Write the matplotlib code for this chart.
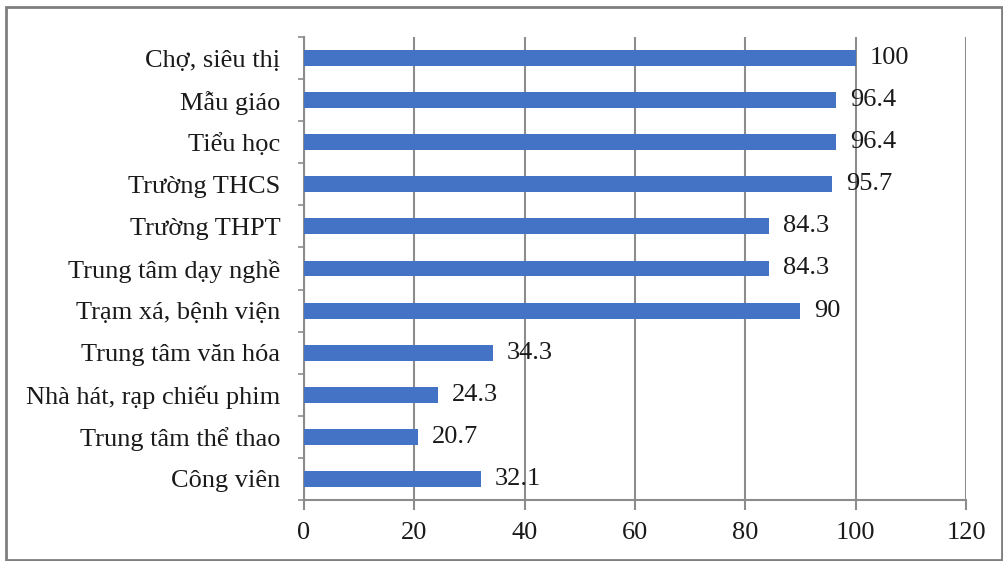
import matplotlib.pyplot as plt
from matplotlib.patches import Rectangle
from matplotlib.ticker import FixedLocator

plt.rcParams['font.family'] = ['Liberation Serif', 'DejaVu Serif']

categories = ['Chợ, siêu thị', 'Mẫu giáo', 'Tiểu học', 'Trường THCS', 'Trường THPT',
              'Trung tâm dạy nghề', 'Trạm xá, bệnh viện', 'Trung tâm văn hóa',
              'Nhà hát, rạp chiếu phim', 'Trung tâm thể thao', 'Công viên']
values = [100, 96.4, 96.4, 95.7, 84.3, 84.3, 90, 34.3, 24.3, 20.7, 32.1]
value_labels = ['100', '96.4', '96.4', '95.7', '84.3', '84.3', '90', '34.3', '24.3', '20.7', '32.1']
xticks = [0, 20, 40, 60, 80, 100, 120]

bar_color = '#4472C4'
grid_color = '#8c8c8c'
text_color = '#1a1a1a'
fs = 19

fig = plt.figure(figsize=(10.04, 5.61), dpi=100)
ax = fig.add_axes([304 / 1004, 1 - 500 / 561, 662 / 1004, 463 / 561])

# top category first
pos = list(range(len(categories)))[::-1]
ax.barh(pos, values, height=0.38, color=bar_color, zorder=3)

for y, v, lab in zip(pos, values, value_labels):
    ax.annotate(lab, (v, y), xytext=(10, 0), textcoords='offset points',
                va='center', ha='left', fontsize=fs, color=text_color, zorder=4)

ax.set_xlim(0, 120)
ax.set_ylim(-0.5, len(categories) - 0.5)
ax.set_xticks(xticks)
ax.set_yticks(pos)
ax.set_yticklabels(categories)
ax.yaxis.set_minor_locator(FixedLocator([p + 0.5 for p in range(-1, len(categories))]))

ax.tick_params(axis='y', which='major', length=0, pad=17, labelsize=fs, labelcolor=text_color)
ax.tick_params(axis='y', which='minor', length=4, width=1.2, color=grid_color)
ax.tick_params(axis='x', length=7, width=1.5, color=grid_color, pad=9,
               labelsize=fs, labelcolor=text_color)

ax.grid(axis='x', color=grid_color, linewidth=1.5, zorder=1)
for side in ['top', 'right']:
    ax.spines[side].set_visible(False)
for side in ['left', 'bottom']:
    ax.spines[side].set_color(grid_color)
    ax.spines[side].set_linewidth(1.5)

# outer frame around the chart
fig.patches.append(Rectangle((6 / 1004, 1 / 561), 996 / 1004, 553 / 561,
                             transform=fig.transFigure, fill=False,
                             edgecolor='#7f7f7f', linewidth=2))

fig.savefig('out.png', dpi=100)
